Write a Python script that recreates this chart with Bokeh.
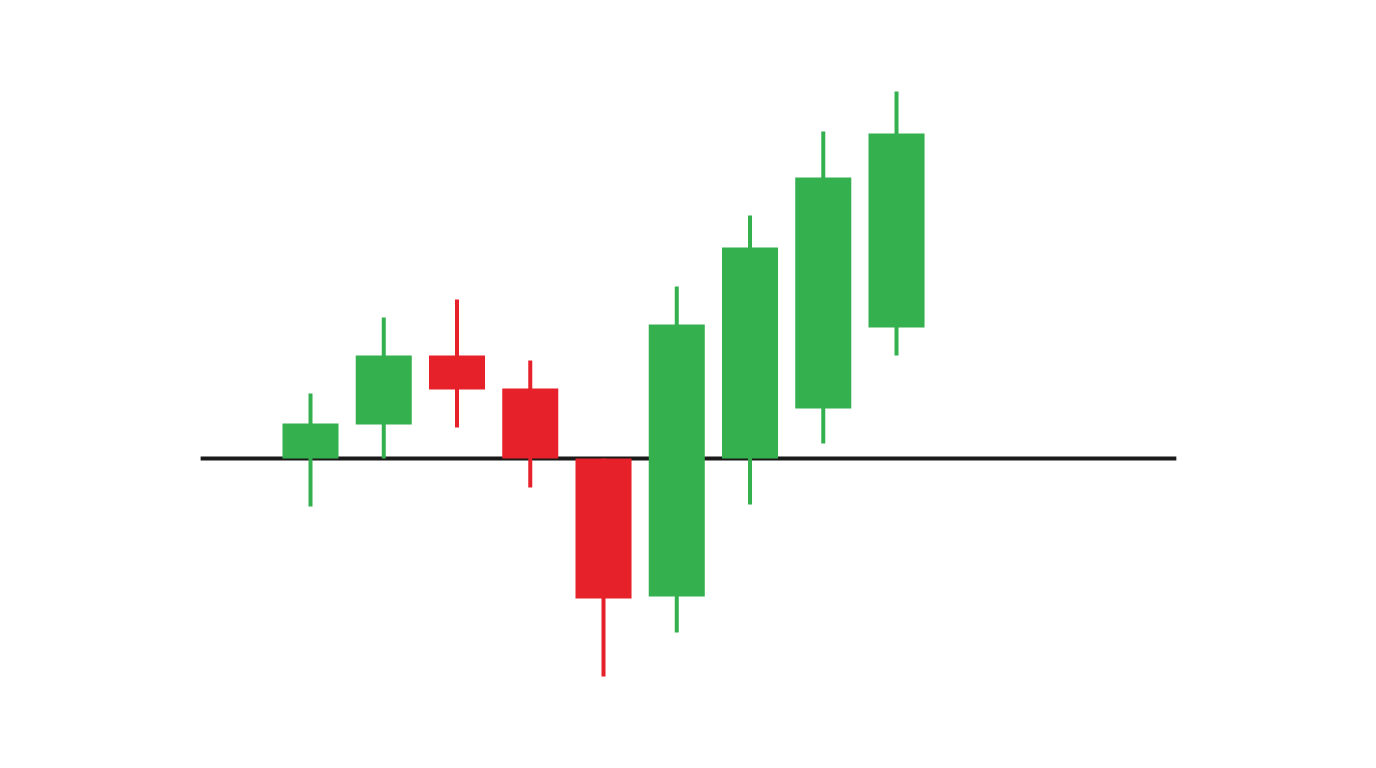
from bokeh.plotting import figure
from bokeh.embed import file_html
from bokeh.resources import INLINE
from bokeh.models import Range1d, ColumnDataSource

# candle data (price units, baseline at 100)
days = [0, 1, 2, 3, 4, 5, 6, 7, 8]
opens = [100.0, 103.4, 110.3, 107.0, 100.0, 86.2, 100.0, 105.0, 113.1]
closes = [103.5, 110.3, 106.9, 100.0, 86.0, 113.4, 121.1, 128.1, 132.5]
highs = [106.5, 114.1, 115.9, 109.8, 100.0, 117.2, 124.3, 132.7, 136.7]
lows = [95.2, 100.0, 103.1, 97.1, 78.2, 82.6, 95.4, 101.5, 110.3]
baseline = 100.0
baseline_span = (-1.5, 11.82)

GREEN = "#35b04f"
RED = "#e62129"

colors = [GREEN if c >= o else RED for o, c in zip(opens, closes)]
src = ColumnDataSource(dict(
    x=days,
    top=[max(o, c) for o, c in zip(opens, closes)],
    bottom=[min(o, c) for o, c in zip(opens, closes)],
    high=highs,
    low=lows,
    color=colors,
))

p = figure(
    width=1360,
    height=752,
    output_backend="svg",
    toolbar_location=None,
    x_range=Range1d(-4.232, 14.334),
    y_range=Range1d(70.6, 145.8),
    min_border=0,
)
p.axis.visible = False
p.grid.visible = False
p.outline_line_color = None
p.background_fill_color = "white"

# reference line
p.segment(x0=baseline_span[0], y0=baseline, x1=baseline_span[1], y1=baseline,
          line_color="#1a1a1a", line_width=4)

# wicks and bodies
p.segment(x0="x", y0="low", x1="x", y1="high", source=src,
          line_color="color", line_width=4)
p.vbar(x="x", top="top", bottom="bottom", width=0.765, source=src,
       fill_color="color", line_color=None)

open("out.html", "w").write(file_html(p, INLINE))
